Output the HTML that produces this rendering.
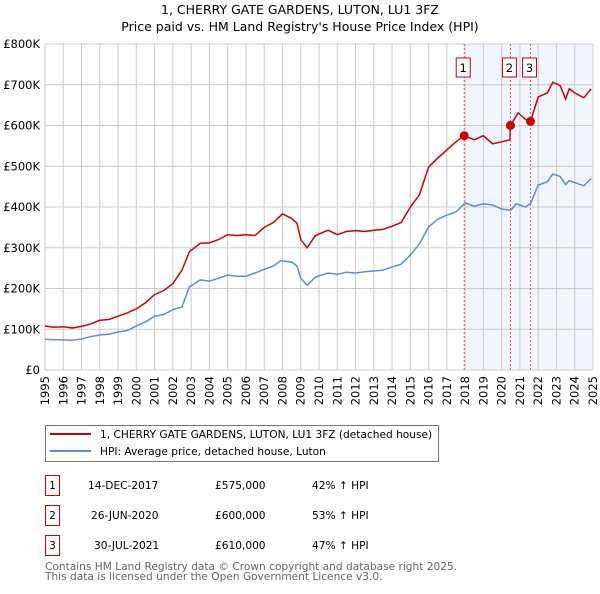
<!DOCTYPE html>
<html><head><meta charset="utf-8"><style>
body{margin:0;background:#fff;font-family:"DejaVu Sans","Liberation Sans",sans-serif;}
svg text{font-family:"DejaVu Sans","Liberation Sans",sans-serif;}
</style></head><body>
<svg id="chart" width="600" height="590" xmlns="http://www.w3.org/2000/svg">
<text x="300" y="14" text-anchor="middle" font-size="12.5" fill="#000">1, CHERRY GATE GARDENS, LUTON, LU1 3FZ</text>
<text x="300" y="31" text-anchor="middle" font-size="12.5" fill="#000">Price paid vs. HM Land Registry's House Price Index (HPI)</text>
<g id="plot"></g>
<g>
<rect x="45.5" y="425.5" width="393" height="36" fill="#fff" stroke="#777"/>
<line x1="50" y1="434" x2="91" y2="434" stroke="#cc0000" stroke-width="2"/>
<text x="100" y="438" font-size="10.6">1, CHERRY GATE GARDENS, LUTON, LU1 3FZ (detached house)</text>
<line x1="50" y1="451" x2="91" y2="451" stroke="#5b8fd4" stroke-width="2"/>
<text x="100" y="455" font-size="10.6">HPI: Average price, detached house, Luton</text>
</g>
<g font-size="10.6">
<rect x="45.5" y="475.5" width="14" height="20" fill="#fff" stroke="#cc0000"/><text x="52.5" y="489" text-anchor="middle">1</text>
<text x="88" y="489">14-DEC-2017</text><text x="215" y="489">£575,000</text><text x="312" y="489">42% ↑ HPI</text>
<rect x="45.5" y="505.5" width="14" height="20" fill="#fff" stroke="#cc0000"/><text x="52.5" y="519" text-anchor="middle">2</text>
<text x="91" y="519">26-JUN-2020</text><text x="215" y="519">£600,000</text><text x="312" y="519">53% ↑ HPI</text>
<rect x="45.5" y="535.5" width="14" height="20" fill="#fff" stroke="#cc0000"/><text x="52.5" y="549" text-anchor="middle">3</text>
<text x="94" y="549">30-JUL-2021</text><text x="215" y="549">£610,000</text><text x="312" y="549">47% ↑ HPI</text>
</g>
<text x="45" y="570" font-size="10.6" fill="#666">Contains HM Land Registry data © Crown copyright and database right 2025.</text>
<text x="45" y="580" font-size="10.6" fill="#666">This data is licensed under the Open Government Licence v3.0.</text>
</svg>
<script>
const hpiYears=[1995,1996,1996.5,1997,1997.5,1998,1998.5,1999,1999.5,2000,2000.5,2001,2001.5,2002,2002.5,2002.9,2003.5,2004,2004.5,2005,2005.5,2006,2006.5,2007,2007.5,2007.9,2008.5,2008.8,2009.0,2009.35,2009.8,2010.5,2011,2011.5,2012,2012.5,2013,2013.5,2014,2014.5,2015,2015.5,2016,2016.5,2017,2017.5,2018,2018.5,2019,2019.5,2020,2020.5,2020.8,2021.3,2021.6,2022,2022.5,2022.8,2023.2,2023.5,2023.7,2024,2024.5,2024.9];
const hpiValues=[75,74,73,76,82,86,88,93,97,108,118,132,136,148,155,204,221,218,225,233,230,230,238,247,255,268,265,255,225,208,228,238,235,240,238,241,243,245,253,260,282,310,351,370,380,388,410,402,408,405,395,392,408,400,410,454,462,481,475,455,465,460,452,470];
const priceYears=[1995,1995.5,1996,1996.5,1997,1997.5,1998,1998.5,1999,1999.5,2000,2000.5,2001,2001.5,2002,2002.5,2002.9,2003.5,2004,2004.5,2005,2005.5,2006,2006.5,2007,2007.5,2008,2008.5,2008.8,2009.0,2009.35,2009.8,2010.5,2011,2011.5,2012,2012.5,2013,2013.5,2014,2014.5,2015,2015.5,2016,2016.5,2017,2017.5,2017.95,2018.5,2019,2019.5,2020,2020.45,2020.48,2020.9,2021.3,2021.58,2022,2022.5,2022.8,2023.2,2023.5,2023.7,2024,2024.5,2024.9];
const priceValues=[108,105,106,103,107,113,122,124,132,140,150,165,185,195,212,245,290,311,312,320,332,330,332,330,350,362,383,372,360,320,300,330,343,332,340,342,340,343,345,353,362,400,430,498,520,540,560,575,565,575,555,560,565,600,631,615,610,670,680,706,698,665,690,680,668,690];
const saleYears=[2017.95,2020.48,2021.58];
const saleValues=[575,600,610];
const saleLabels=["1","2","3"];
const yTicks=[0,100,200,300,400,500,600,700,800];
const yTickLabels=["£0","£100K","£200K","£300K","£400K","£500K","£600K","£700K","£800K"];
const xTicks=[1995,1996,1997,1998,1999,2000,2001,2002,2003,2004,2005,2006,2007,2008,2009,2010,2011,2012,2013,2014,2015,2016,2017,2018,2019,2020,2021,2022,2023,2024,2025];

const NS="http://www.w3.org/2000/svg";
const L=45,R=593,T=44,B=370;
const X=y=>L+(y-1995)/(2025-1995)*(R-L);
const Y=v=>B-v/800*(B-T);
const g=document.getElementById('plot');
function mk(tag,attrs){const e=document.createElementNS(NS,tag);for(const k in attrs)e.setAttribute(k,attrs[k]);g.appendChild(e);return e;}
const sh=mk('rect',{x:X(saleYears[0]),y:T,width:R-X(saleYears[0]),height:B-T,fill:'#eef3fc',opacity:0.8});


yTicks.forEach((t,i)=>{
 const l=mk('line',{x1:L,x2:R,y1:Y(t),y2:Y(t),stroke:'#ccc','stroke-width':1});
 
 
 const tx=mk('text',{x:40,y:Y(t)+4,'text-anchor':'end','font-size':'11.5',fill:'#000'});
 tx.textContent=yTickLabels[i];
 
 
});
xTicks.forEach(t=>{
 const l=mk('line',{x1:X(t),x2:X(t),y1:T,y2:B,stroke:'#ccc','stroke-width':1});
 
 
 const tx=mk('text',{x:X(t)+4,y:B+6,'text-anchor':'end','font-size':'11.5',fill:'#000',transform:`rotate(-90 ${X(t)+4} ${B+6})`});
 tx.textContent=String(t);
 
 
});
const hp=mk('polyline',{points:hpiYears.map((y,i)=>X(y)+','+Y(hpiValues[i])).join(' '),fill:'none',stroke:'#5b8fd4','stroke-width':1.5});


const pp=mk('polyline',{points:priceYears.map((y,i)=>X(y)+','+Y(priceValues[i])).join(' '),fill:'none',stroke:'#cc0000','stroke-width':1.5});


saleYears.forEach((s,i)=>{
 const vl=mk('line',{x1:X(s),x2:X(s),y1:T,y2:B,stroke:'#ee5555','stroke-width':1,'stroke-dasharray':'2,2'});
 
 
 const c=mk('circle',{cx:X(s),cy:Y(saleValues[i]),r:4.5,fill:'#cc0000'});
 
 
 const bx=mk('rect',{x:X(s)-8,y:58,width:14,height:19,fill:'#fff',stroke:'#cc0000'});
 
 
 const tx=mk('text',{x:X(s)-1,y:72,'text-anchor':'middle','font-size':'11.5'});
 tx.textContent=saleLabels[i];
 
 
});
</script>
</body></html>
